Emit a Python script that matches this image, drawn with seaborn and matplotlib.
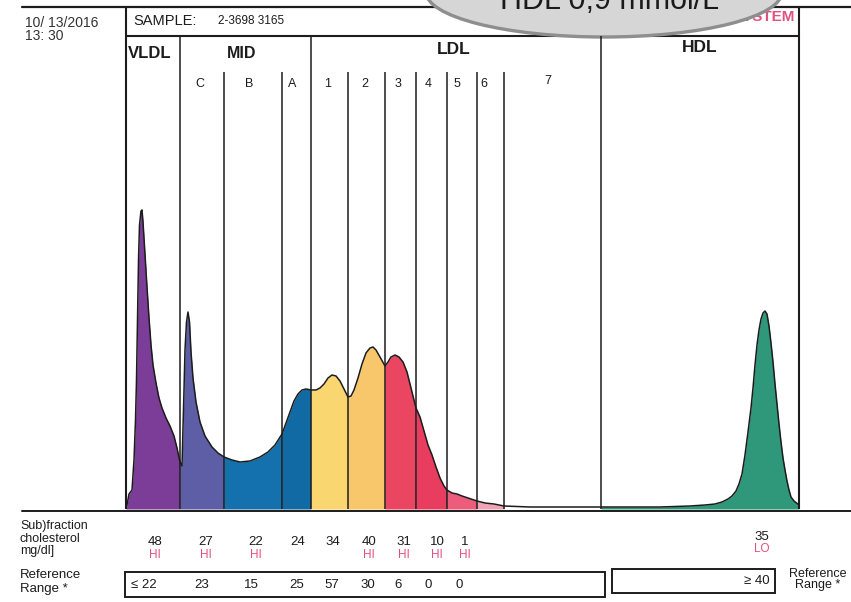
import numpy as np
import matplotlib
matplotlib.use("Agg")
import matplotlib.pyplot as plt
import seaborn as sns
from matplotlib import font_manager
from matplotlib.patches import Ellipse, Rectangle

# ---------------- data ----------------
band_names = ["VLDL", "C", "B", "A", "1", "2", "3", "4", "5", "6", "7", "HDL"]
band_edges = [126, 180, 224, 282, 311, 348, 385, 416, 447, 477, 504, 601, 799]
band_colors = ["#7b3d97", "#5d5ea6", "#1570ae", "#116aa3", "#f9d670", "#f8c76c",
               "#ea4661", "#e93d5f", "#ec5d7b", "#f0a3b4", "none", "#2f977a"]

# electrophoretic mobility (chart px) and optical density (px above baseline)
curve_pos = [126, 127, 129, 132, 134, 135.5, 136.5, 137.5, 138.5, 139.5, 141, 142, 143,
             145, 147, 149, 151, 153, 156, 159, 162, 166, 170, 174, 177, 180, 182,
             183, 184, 185, 186.5, 188, 189.5, 191, 193, 196, 200, 205, 212, 218, 224,
             232, 240, 250, 260, 268, 275, 282, 286, 290, 294, 298, 302, 306, 311,
             316, 320, 324, 328, 332, 336, 340, 344, 348, 351, 354, 358, 362, 366,
             370, 373, 376, 380, 385, 388, 391, 395, 399, 403, 407, 411, 416, 420,
             424, 428, 432, 436, 440, 444, 447, 452, 457, 462, 468, 477, 485, 494,
             504, 530, 560, 601, 630, 660, 690, 705, 715, 722, 728, 732, 736, 739,
             742, 745, 748, 751, 753, 755, 757, 759, 761, 763, 765, 767, 769, 771,
             773, 775, 777, 779, 781, 783, 785, 787, 789, 791, 794, 799]
curve_height = [2, 4, 15, 19, 49, 89, 129, 189, 249, 284, 298, 299, 287,
                254, 222, 191, 164, 144, 126, 111, 101, 91, 83, 73, 61, 47, 43,
                79, 119, 159, 187, 197, 187, 157, 131, 107, 87, 73, 62, 56, 52,
                49, 47, 48, 52, 57, 64, 75, 86, 97, 108, 115, 119, 120, 119,
                119, 121, 125, 131, 134, 133, 128, 120, 112, 113, 119, 131, 145, 156,
                161, 162, 159, 152, 143, 147, 152, 154, 152, 147, 137, 121, 101, 92,
                78, 64, 54, 42, 31, 23, 19, 16, 15, 13, 11, 8, 6, 5,
                3, 2, 2, 2, 2, 2, 3, 4, 5, 7, 10, 13, 18, 25,
                35, 54, 77, 101, 121, 144, 164, 179, 190, 196, 198, 195, 183, 166,
                147, 125, 105, 85, 67, 51, 39, 28, 19, 12, 8, 4]

chol_labels = ["48", "27", "22", "24", "34", "40", "31", "10", "1"]
chol_flags = ["HI", "HI", "HI", "", "", "HI", "HI", "HI", "HI"]
ref_labels = ["≤ 22", "23", "15", "25", "57", "30", "6", "0", "0"]
hdl_value, hdl_flag, hdl_ref = "35", "LO", "≥ 40"

# ---------------- fonts ----------------
sns.set_theme(style="white")
names = {f.name for f in font_manager.fontManager.ttflist}
NARROW = "Liberation Sans Narrow" if "Liberation Sans Narrow" in names else "Liberation Sans"
plt.rcParams["font.family"] = [NARROW, "DejaVu Sans"]

INK = "#1c1c1c"
PINK = "#e2507f"

fig = plt.figure(figsize=(8.51, 6.02), dpi=100)
ax = fig.add_axes([0, 0, 1, 1])
ax.set_xlim(0, 851)
ax.set_ylim(602, 0)
ax.axis("off")

# ---------------- chart ----------------
W, H = 851, 602
base_y = 509
cax = fig.add_axes([126 / W, (H - base_y) / H, (799 - 126) / W, 502 / H])
pos = np.array(curve_pos, dtype=float)
hgt = np.array(curve_height, dtype=float)
for i, col in enumerate(band_colors):
    lo, hi = band_edges[i], band_edges[i + 1]
    m = (pos >= lo) & (pos <= hi)
    if col != "none":
        cax.fill_between(pos[m], 0, hgt[m], color=col, lw=0, zorder=1)
sns.lineplot(x=pos, y=hgt, ax=cax, color=INK, linewidth=1.1, zorder=3)
cax.set_xlim(126, 799)
cax.set_ylim(0, 502)

major = {126: 502, 180: 473, 311: 473, 601: 473, 799: 502}
for x in band_edges:
    top = major.get(x, 437)
    lw = 1.5 if x in (126, 799) else 1.1
    cax.vlines(x, 0, top, colors=INK, lw=lw, clip_on=False, zorder=4)
cax.axis("off")

# ---------------- frame / header ----------------
ax.plot([22, 851], [7, 7], color=INK, lw=1.6)
ax.plot([126, 799], [36, 36], color=INK, lw=1.5)
ax.plot([22, 851], [511, 511], color=INK, lw=1.4)

ax.text(25, 23, "10/ 13/2016", fontsize=10, color="#333333", va="center", ha="left")
ax.text(25, 36, "13: 30", fontsize=10, color="#333333", va="center", ha="left")
ax.text(133, 21, "SAMPLE:", fontsize=10.5, color=INK, va="center", ha="left")
ax.text(218, 21, "2-3698 3165", fontsize=8.5, color=INK, va="center", ha="left")
ax.text(795, 17, "SYSTEM", fontsize=11, color=PINK, fontweight="bold",
        va="center", ha="right")

ax.text(128, 53, "VLDL", fontsize=12, fontweight="bold", color=INK, va="center", ha="left")
ax.text(242, 53, "MID", fontsize=11.5, fontweight="bold", color=INK, va="center", ha="center")
ax.text(454, 50, "LDL", fontsize=12.5, fontweight="bold", color=INK, va="center", ha="center")
ax.text(700, 47, "HDL", fontsize=12.5, fontweight="bold", color=INK, va="center", ha="center")
sub_x = [200, 249, 292, 328, 365, 398, 428, 457, 484, 548]
for lab, x in zip(band_names[1:11], sub_x):
    ax.text(x, 84 if lab != "7" else 81, lab, fontsize=9, color=INK, va="center", ha="center")

# bubble overlay
ax.add_patch(Ellipse((604, -8), 356, 90, facecolor="#d6d6d6", edgecolor="#8e8e8e",
                     lw=2.4, zorder=10))
ax.text(610, 9, "HDL 0,9 mmol/L", fontsize=22, family=["Liberation Sans", "DejaVu Sans"],
        color="#1a1a1a", va="baseline", ha="center", zorder=11)

# ---------------- table below ----------------
for i, t in enumerate(["Sub)fraction", "cholesterol", "mg/dl]"]):
    ax.text(20, 526 + 12.5 * i, t, fontsize=9, color=INK, va="center", ha="left")
ax.text(20, 575, "Reference", fontsize=9.5, color=INK, va="center", ha="left")
ax.text(20, 589, "Range *", fontsize=9.5, color=INK, va="center", ha="left")

val_x = [155, 206, 256, 298, 333, 369, 404, 437, 465]
for x, v, f in zip(val_x, chol_labels, chol_flags):
    ax.text(x, 542, v, fontsize=9.5, color=INK, va="center", ha="center")
    if f:
        ax.text(x, 555, f, fontsize=8.5, color=PINK, va="center", ha="center")
ax.text(762, 537, hdl_value, fontsize=9.5, color=INK, va="center", ha="center")
ax.text(762, 549, hdl_flag, fontsize=8.5, color=PINK, va="center", ha="center")

ax.add_patch(Rectangle((125, 572), 480, 25, fill=False, edgecolor=INK, lw=1.4))
ax.add_patch(Rectangle((612, 569), 163, 24, fill=False, edgecolor=INK, lw=1.4))
ref_x = [131, 202, 251, 297, 332, 368, 398, 428, 459]
for i, (x, v) in enumerate(zip(ref_x, ref_labels)):
    ax.text(x, 585, v, fontsize=9.5, color=INK, va="center",
            ha="left" if i == 0 else "center")
ax.text(770, 581, hdl_ref, fontsize=9.5, color=INK, va="center", ha="right")
ax.text(818, 574, "Reference", fontsize=9, color=INK, va="center", ha="center")
ax.text(818, 585, "Range *", fontsize=9, color=INK, va="center", ha="center")

fig.savefig("out.png", dpi=100)
